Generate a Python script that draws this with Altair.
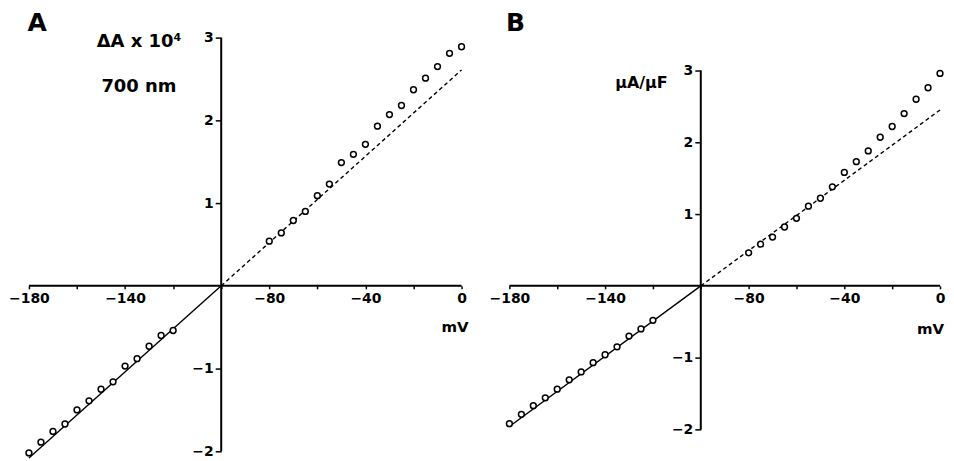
import altair as alt
import pandas as pd

# ---------------- data ----------------
neg_mv = [-180, -175, -170, -165, -160, -155, -150, -145, -140, -135, -130, -125, -120]
pos_mv = [-80, -75, -70, -65, -60, -55, -50, -45, -40, -35, -30, -25, -20, -15, -10, -5, 0]

a_neg = [-2.02, -1.89, -1.76, -1.67, -1.50, -1.39, -1.25, -1.16, -0.97, -0.88, -0.73, -0.60, -0.54]
a_pos = [0.54, 0.64, 0.79, 0.90, 1.09, 1.23, 1.49, 1.59, 1.71, 1.93, 2.07, 2.18, 2.37, 2.51, 2.65, 2.81, 2.89]

b_neg = [-1.92, -1.79, -1.67, -1.56, -1.44, -1.31, -1.20, -1.07, -0.96, -0.85, -0.70, -0.60, -0.48]
b_pos = [0.46, 0.58, 0.68, 0.82, 0.94, 1.11, 1.22, 1.38, 1.58, 1.73, 1.88, 2.07, 2.22, 2.40, 2.60, 2.76, 2.96]

# fitted straight lines: solid part (fitted range) and dashed extrapolation
fit_solid_x = [-180, -100]
fit_dash_x = [-100, 0]
a_fit_solid = [-2.08, 0.0]
a_fit_dash = [0.0, 2.61]
b_fit_solid = [-1.96, 0.0]
b_fit_dash = [0.0, 2.45]

x_ticks = [-180, -160, -140, -120, -100, -80, -60, -40, -20, 0]
x_labels = [-180, -140, -80, -40, 0]
y_ticks = [-2, -1, 1, 2, 3]

FONT = "DejaVu Sans"


def panel(neg_y, pos_y, solid_y, dash_y, width, height, ydom, ytitle, title_x, title_y,
          title_size, letter, letter_dx, mv_x, mv_y):
    pts = pd.DataFrame({"mv": neg_mv + pos_mv, "v": neg_y + pos_y})
    solid = pd.DataFrame({"mv": fit_solid_x, "v": solid_y})
    dash = pd.DataFrame({"mv": fit_dash_x, "v": dash_y})
    xaxis_line = pd.DataFrame({"x1": [min(x_ticks)], "x2": [max(x_ticks)], "y": [0]})
    yaxis_line = pd.DataFrame({"x": [-100], "y1": [min(y_ticks)], "y2": [max(y_ticks)]})

    y0_from_bottom = height * (0 - ydom[0]) / (ydom[1] - ydom[0])
    x100_from_left = width * (-100 + 180) / 180.0

    label_list = "[" + ",".join(str(v) for v in x_labels) + "]"
    xscale = alt.Scale(domain=[-180, 0], nice=False, zero=False)
    yscale = alt.Scale(domain=ydom, nice=False, zero=False)

    xaxis = alt.Axis(
        values=x_ticks, format="d", offset=-y0_from_bottom, domain=False, grid=False,
        tickSize=3, tickWidth=1.5, tickColor="black",
        labelExpr=f"indexof({label_list}, datum.value) >= 0 ? datum.label : ''",
        labelFlush=False, labelOverlap=False, labelPadding=3,
        labelFont=FONT, labelFontSize=14, labelFontWeight="bold", labelColor="black",
        title="mV", titleFont=FONT, titleFontSize=15, titleFontWeight="bold",
        titleColor="black", titleAngle=0, titleAlign="center",
        titleBaseline="alphabetic", titleX=mv_x, titleY=mv_y,
    )
    yaxis = alt.Axis(
        values=y_ticks, format="d", offset=-x100_from_left, domain=False, grid=False,
        tickSize=6, tickWidth=1.5, tickColor="black", labelPadding=2,
        labelFont=FONT, labelFontSize=14, labelFontWeight="bold", labelColor="black",
        title=ytitle, titleFont=FONT, titleFontSize=title_size, titleFontWeight="bold",
        titleColor="black", titleAngle=0, titleAlign="center", titleBaseline="alphabetic",
        titleX=title_x, titleY=title_y, titleLineHeight=45,
    )

    base_x = alt.X("mv:Q", scale=xscale, axis=xaxis)
    base_y = alt.Y("v:Q", scale=yscale, axis=yaxis)

    xline = alt.Chart(xaxis_line).mark_rule(color="black", strokeWidth=2).encode(
        x=alt.X("x1:Q", scale=xscale, axis=xaxis), x2="x2:Q",
        y=alt.Y("y:Q", scale=yscale, axis=yaxis))
    yline = alt.Chart(yaxis_line).mark_rule(color="black", strokeWidth=2).encode(
        x=alt.X("x:Q", scale=xscale, axis=xaxis),
        y=alt.Y("y1:Q", scale=yscale, axis=yaxis), y2="y2:Q")
    sl = alt.Chart(solid).mark_line(color="black", strokeWidth=1.4).encode(x=base_x, y=base_y)
    dl = alt.Chart(dash).mark_line(color="black", strokeWidth=1.4, strokeDash=[4, 3]).encode(
        x=base_x, y=base_y)
    pt = alt.Chart(pts).mark_point(shape="circle", filled=True, fill="white", stroke="black",
                                   strokeWidth=1.5, size=34, opacity=1).encode(x=base_x, y=base_y)

    return alt.layer(xline, yline, sl, dl, pt).properties(
        width=width, height=height,
        title=alt.TitleParams(letter, anchor="start", font=FONT, fontSize=25,
                              fontWeight="bold", color="black", offset=0, dx=letter_dx,
                              dy=26, baseline="alphabetic"),
    )


H = 428
ydom_a = [-(H - 257) / 83.0, 257 / 83.0]
ydom_b = [-(H - 257) / 72.0, 257 / 72.0]

pa = panel(a_neg, a_pos, a_fit_solid, a_fit_dash, 434, H, ydom_a,
           ["ΔA  x  10⁴", "700  nm"], -83, 17, 18, "A", 19, 427, 46)
pb = panel(b_neg, b_pos, b_fit_solid, b_fit_dash, 432, H, ydom_b,
           "μA/μF", -60, 58, 16, "B", 17, 422, 48)

chart = alt.hconcat(pa, pb, spacing=48, bounds="flush").properties(
    padding={"left": 0, "top": 2, "right": 0, "bottom": 0},
).configure(background="white", view=alt.ViewConfig(strokeWidth=0, stroke="transparent"))

chart.save("out.html", embed_options={"renderer": "svg", "actions": False})
